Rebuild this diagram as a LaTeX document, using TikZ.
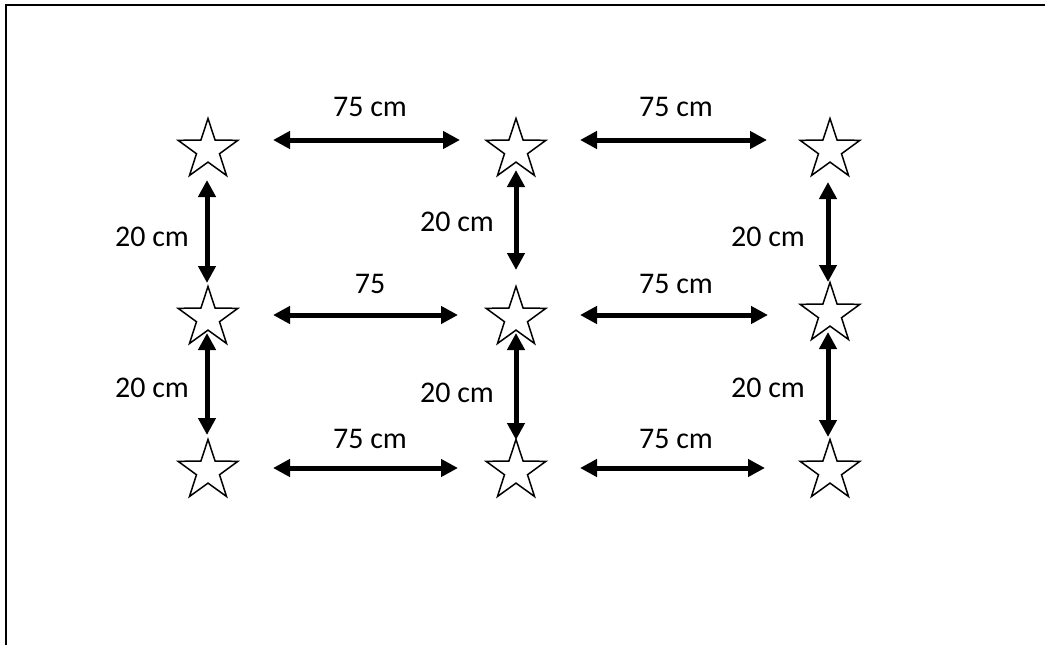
\documentclass[tikz,border=0pt]{standalone}
\usepackage{fontspec}
\setmainfont{Carlito}
\usetikzlibrary{shapes.geometric,arrows.meta,calc}
\tikzset{
  starnode/.style={shape=star, star points=5, star point ratio=2.6, minimum size=63pt, inner sep=0pt, draw=black, line width=1.5pt, fill=white},
  arr/.style={line width=5pt, {Triangle[length=17pt,width=17pt]}-{Triangle[length=17pt,width=17pt]}},
  lbl/.style={inner sep=0pt, font=\fontsize{30}{36}\selectfont},
  frame/.style={line width=2.2pt, draw=black}
}
\begin{document}
\begin{tikzpicture}[x=1pt,y=-1pt]
\useasboundingbox (0,0) rectangle (1045,645);
% frame
\coordinate (fb) at (6,645);
\coordinate (fc) at (6,5);
\coordinate (fr) at (1045,5);
\draw[frame] (fb) -- (fc) -- (fr);
% stars
\node[starnode] (s11) at (208,150) {};
\node[starnode] (s12) at (516,150) {};
\node[starnode] (s13) at (830,150) {};
\node[starnode] (s21) at (208,318) {};
\node[starnode] (s22) at (516,318) {};
\node[starnode] (s23) at (830,314) {};
\node[starnode] (s31) at (208,471) {};
\node[starnode] (s32) at (516,471) {};
\node[starnode] (s33) at (830,471) {};
% horizontal arrows
\draw[arr] ($(s11)+(65,-10)$) -- ($(s12)+(-56,-10)$);
\draw[arr] ($(s12)+(64,-10)$) -- ($(s13)+(-63,-10)$);
\draw[arr] ($(s21)+(65,-3)$) -- ($(s22)+(-58,-3)$);
\draw[arr] ($(s22)+(64,-3)$) -- ($(s23)+(-62,1)$);
\draw[arr] ($(s31)+(65,-3)$) -- ($(s32)+(-58,-3)$);
\draw[arr] ($(s32)+(64,-3)$) -- ($(s33)+(-65,-3)$);
% vertical arrows
\draw[arr] ($(s11)+(-1,30)$) -- ($(s21)+(-1,-35)$);
\draw[arr] ($(s21)+(-1,15)$) -- ($(s31)+(-1,-36)$);
\draw[arr] ($(s12)+(0,20)$) -- ($(s22)+(0,-48)$);
\draw[arr] ($(s22)+(0,15)$) -- ($(s32)+(0,-31)$);
\draw[arr] ($(s13)+(-2,32)$) -- ($(s23)+(-2,-32)$);
\draw[arr] ($(s23)+(-2,18)$) -- ($(s33)+(-2,-34)$);
% labels
\node[lbl] (l1) at (370,107) {75 cm};
\node[lbl] (l2) at (676,107) {75 cm};
\node[lbl] (l3) at (370,284) {75};
\node[lbl] (l4) at (676,284) {75 cm};
\node[lbl] (l5) at (370,439) {75 cm};
\node[lbl] (l6) at (676,439) {75 cm};
\node[lbl] (v1) at (152,237) {20 cm};
\node[lbl] (v2) at (152,388) {20 cm};
\node[lbl] (v3) at (457,222) {20 cm};
\node[lbl] (v4) at (457,393) {20 cm};
\node[lbl] (v5) at (768,237) {20 cm};
\node[lbl] (v6) at (768,388) {20 cm};
\end{tikzpicture}
\end{document}
